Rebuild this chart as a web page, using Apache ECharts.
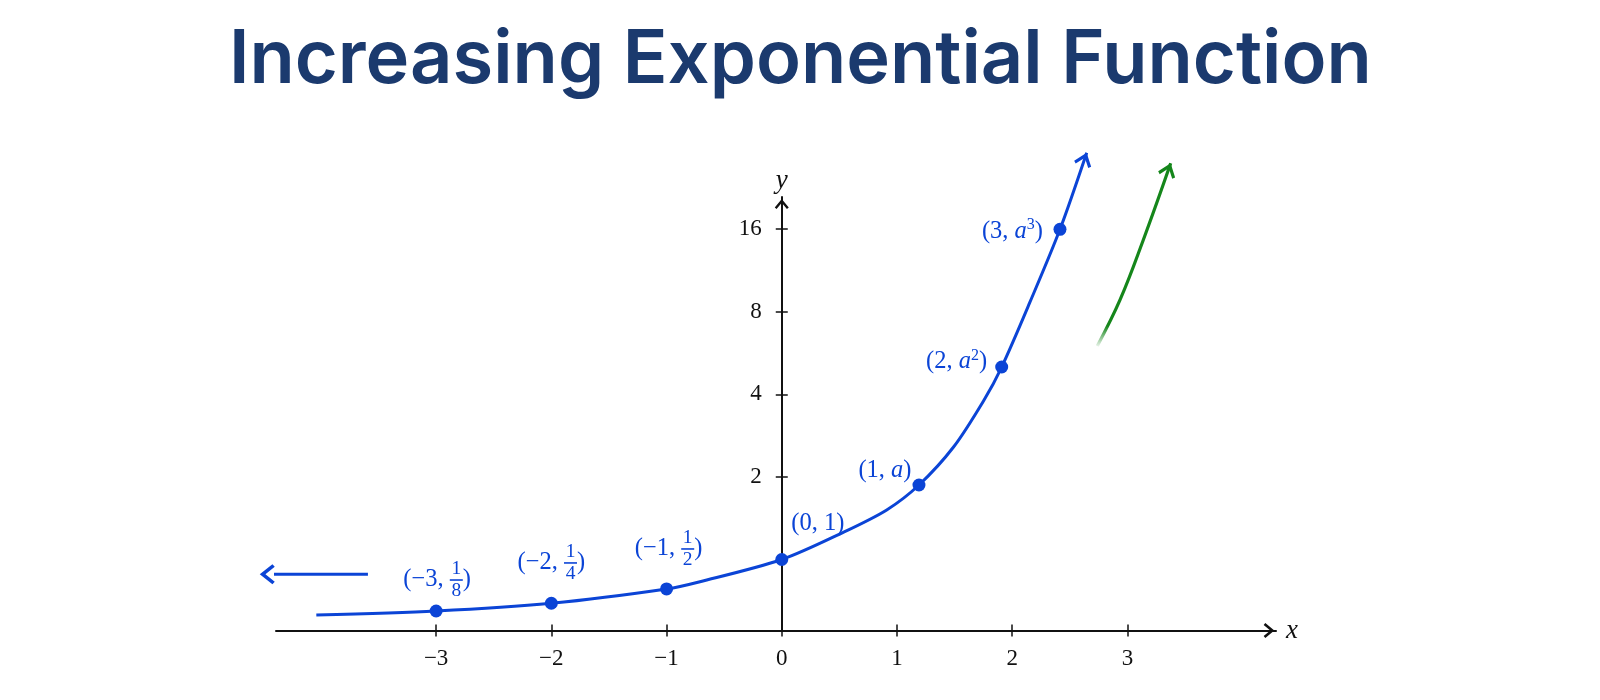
<!DOCTYPE html>
<html>
<head>
<meta charset="utf-8">
<script src="https://cdn.jsdelivr.net/npm/echarts@6/dist/echarts.min.js"></script>
<style>
html,body{margin:0;padding:0;background:#ffffff;}
#chart{width:1600px;height:700px;}
</style>
</head>
<body>
<div id="chart"></div>
<script>
// ---------- data ----------
const titleText = 'Increasing Exponential Function';
const xTickValues = [-3, -2, -1, 0, 1, 2, 3];
const yTickValues = [2, 4, 8, 16];              // labels on a doubling scale
// curve: x and height on the doubling scale (0 = 1, 1 = 2, 2 = 4 ...)
const curveX     = [-4.04, -3, -2, -1, -0.71, 0, 0.534, 0.911, 1.191, 1.491, 1.751, 1.909, 2.155, 2.415, 2.647];
const curveLevel = [-0.672, -0.624, -0.530, -0.357, -0.269, 0, 0.329, 0.600, 0.902, 1.362, 1.920, 2.331, 3.119, 3.999, 4.927];
// marked points
const dotX     = [-3, -2, -1, 0, 1.191, 1.909, 2.415];
const dotLevel = [-0.624, -0.530, -0.357, 0, 0.902, 2.331, 3.999];
const dotXText = ['\u22123', '\u22122', '\u22121', '0', '1', '2', '3'];
const dotYText = ['1/8', '1/4', '1/2', '1', 'a', 'a^2', 'a^3'];
// left arrow (curve tends to 0)
const leftArrowX     = [-3.592, -4.529];
const leftArrowLevel = [-0.179, -0.179];
// green "increasing" arrow
const greenX     = [2.739, 2.936, 3.138, 3.376];
const greenLevel = [2.586, 3.143, 3.869, 4.798];
// arrow heads (blue curve, green arrow, left arrow)
const headX     = [2.626, 3.355, -4.466];
const headLevel = [4.847, 4.719, -0.179];

// ---------- styles ----------
const BLUE = '#0b44d6';
const GREEN = '#15861b';
const INK = '#111111';
const SERIF = '"Liberation Serif", "DejaVu Serif", serif';
const CHEV = 'path://M10,0 L20,12 L17.4,14.2 L10,5.4 L2.6,14.2 L0,12 Z';
const headRotate = [-19.7, -19.7, 90];
const headColor = [BLUE, GREEN, BLUE];
const headSize = [[18, 14], [18, 14], [20, 15]];
const labelPlace = [
  {position: 'top', distance: 3.5, offset: [1, 0]},
  {position: 'top', distance: 12.8, offset: [0, 0]},
  {position: 'top', distance: 12.5, offset: [2, 0]},
  {position: 'right', distance: 3, offset: [0, -36]},
  {position: 'left', distance: 1, offset: [0, -14]},
  {position: 'left', distance: 8, offset: [0, -5]},
  {position: 'left', distance: 10.5, offset: [0, 2]}
];

function buildLabel(xt, yt) {
  const pre = '(' + xt + ', ';
  if (yt.indexOf('/') >= 0) {
    const parts = yt.split('/');
    return '{h|' + pre + '}{n|' + parts[0] + '}{h|)}\n' +
           '{p|' + pre + '}{bar|}{p|)}\n' +
           '{h|' + pre + '}{n|' + parts[1] + '}{h|)}';
  }
  if (yt.charAt(0) === 'a') {
    const sup = yt.indexOf('^') >= 0 ? '{s|' + yt.split('^')[1] + '}' : '';
    return '{t|' + pre + '}{i|a}' + sup + '{t|)}';
  }
  return '{t|' + pre + yt + ')}';
}

const rich = {
  t: {fontFamily: SERIF, fontSize: 24.5, color: BLUE, lineHeight: 28},
  i: {fontFamily: SERIF, fontSize: 24.5, fontStyle: 'italic', color: BLUE, lineHeight: 28},
  s: {fontFamily: SERIF, fontSize: 16, color: BLUE, lineHeight: 15, verticalAlign: 'top'},
  h: {fontFamily: SERIF, fontSize: 24.5, color: 'rgba(0,0,0,0)', lineHeight: 20},
  p: {fontFamily: SERIF, fontSize: 24.5, color: BLUE, lineHeight: 2},
  n: {fontFamily: SERIF, fontSize: 19.5, color: BLUE, lineHeight: 20, width: 13, align: 'center'},
  bar: {width: 13, height: 1.6, lineHeight: 2, backgroundColor: BLUE}
};

const dotData = dotX.map(function (x, i) {
  return {
    value: [x, dotLevel[i]],
    label: Object.assign({show: true, formatter: buildLabel(dotXText[i], dotYText[i]), rich: rich}, labelPlace[i])
  };
});

const headData = headX.map(function (x, i) {
  return {
    value: [x, headLevel[i]],
    symbolRotate: headRotate[i],
    symbolSize: headSize[i],
    itemStyle: {color: headColor[i], opacity: 1}
  };
});

const yTickLevels = yTickValues.map(function (v) { return Math.log2(v); });
function fmtX(v) { return v < 0 ? '\u2212' + (-v) : String(v); }
function fmtY(v) { return String(Math.round(Math.pow(2, v))); }

const X_MIN = -4.39, X_MAX = 4.29, Y_MIN = -0.86, Y_MAX = 4.39;
const GRID_LEFT = 276, GRID_RIGHT = 324;
// the y axis stands at x = 0: shift it from the grid's left edge to there
const Y_AXIS_SHIFT = -(0 - X_MIN) / (X_MAX - X_MIN) * (1600 - GRID_LEFT - GRID_RIGHT);

const chart = echarts.init(document.getElementById('chart'), null, {renderer: 'canvas'});
chart.setOption({
  backgroundColor: '#ffffff',
  animation: false,
  title: {
    text: titleText,
    left: 224,
    top: 19,
    textStyle: {fontFamily: 'Inter', fontWeight: 600, fontSize: 74, color: '#1b3a6e'}
  },
  grid: {left: GRID_LEFT, right: GRID_RIGHT, top: 197, bottom: 69.5, containLabel: false},
  xAxis: [
    {
      type: 'value', min: X_MIN, max: X_MAX, position: 'bottom',
      axisLine: {show: true, onZero: false, lineStyle: {color: INK, width: 2},
                 symbol: ['none', CHEV], symbolSize: [15, 14], symbolOffset: [0, -7]},
      axisTick: {show: true, customValues: xTickValues, length: 6, lineStyle: {color: INK, width: 1.5}},
      axisLabel: {show: true, customValues: xTickValues, formatter: fmtX, margin: 17,
                  fontFamily: SERIF, fontSize: 23, color: INK},
      splitLine: {show: false},
      name: 'x', nameLocation: 'end', nameGap: 10,
      nameTextStyle: {fontFamily: SERIF, fontStyle: 'italic', fontSize: 27, color: INK, verticalAlign: 'middle'}
    },
    {
      type: 'value', min: X_MIN, max: X_MAX, position: 'bottom',
      axisLine: {show: false, onZero: false},
      axisTick: {show: true, inside: true, customValues: xTickValues, length: 6, lineStyle: {color: INK, width: 1.5}},
      axisLabel: {show: false},
      splitLine: {show: false}
    }
  ],
  yAxis: [
    {
      type: 'value', min: Y_MIN, max: Y_MAX, position: 'left', offset: Y_AXIS_SHIFT,
      axisLine: {show: true, onZero: false, lineStyle: {color: INK, width: 2},
                 symbol: ['none', CHEV], symbolSize: [14, 14], symbolOffset: [0, -7]},
      axisTick: {show: true, customValues: yTickLevels, length: 6, lineStyle: {color: INK, width: 1.5}},
      axisLabel: {show: true, customValues: yTickLevels, formatter: fmtY, margin: 20,
                  fontFamily: SERIF, fontSize: 23, color: INK},
      splitLine: {show: false},
      name: 'y', nameLocation: 'end', nameGap: 3,
      nameTextStyle: {fontFamily: SERIF, fontStyle: 'italic', fontSize: 27, color: INK}
    },
    {
      type: 'value', min: Y_MIN, max: Y_MAX, position: 'left', offset: Y_AXIS_SHIFT,
      axisLine: {show: false, onZero: false},
      axisTick: {show: true, inside: true, customValues: yTickLevels, length: 6, lineStyle: {color: INK, width: 1.5}},
      axisLabel: {show: false},
      splitLine: {show: false}
    }
  ],
  series: [
    {
      type: 'line', name: 'curve', clip: false, smooth: 0.3, symbol: 'none',
      data: curveX.map(function (x, i) { return [x, curveLevel[i]]; }),
      lineStyle: {color: BLUE, width: 3}, z: 3
    },
    {
      type: 'line', name: 'leftArrow', clip: false, symbol: 'none',
      data: leftArrowX.map(function (x, i) { return [x, leftArrowLevel[i]]; }),
      lineStyle: {color: BLUE, width: 3}, z: 3
    },
    {
      type: 'line', name: 'green', clip: false, smooth: 0.4, symbol: 'none',
      data: greenX.map(function (x, i) { return [x, greenLevel[i]]; }),
      lineStyle: {width: 3.2, color: {type: 'linear', x: 0, y: 1, x2: 0, y2: 0,
        colorStops: [{offset: 0, color: 'rgba(21,134,27,0)'}, {offset: 0.12, color: GREEN}, {offset: 1, color: GREEN}]}},
      z: 3
    },
    {
      type: 'scatter', name: 'heads', clip: false, symbol: CHEV,
      data: headData, z: 4, silent: true
    },
    {
      type: 'scatter', name: 'points', clip: false, symbol: 'circle', symbolSize: 13,
      itemStyle: {color: BLUE, opacity: 1}, data: dotData, z: 5
    }
  ]
});
</script>
</body>
</html>
